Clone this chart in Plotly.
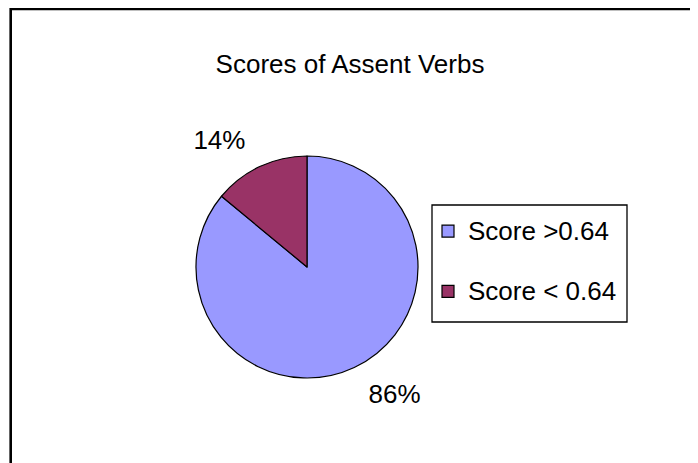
import plotly.graph_objects as go

W, H = 698, 463
OFF = 8  # page body margin in the browser

labels = ["Score >0.64", "Score < 0.64"]
values = [86, 14]
colors = ["#9999FF", "#993366"]
title = "Scores of Assent Verbs"

FONT = "Liberation Sans, Arial, sans-serif"
FS = 26


def px_x(x):
    # page pixel -> paper fraction
    return (x - OFF) / W


def px_y(y):
    return 1 - (y - OFF) / H


legend_labels = [
    f'<span style="font-size:{FS}px;baseline-shift:8px">{t}</span>' for t in labels
]

fig = go.Figure()
# visible pie
fig.add_trace(go.Pie(
    labels=legend_labels, values=values,
    marker=dict(colors=colors, line=dict(color="black", width=1.2)),
    sort=False, direction="clockwise", rotation=0,
    textinfo="none",
    domain=dict(x=[px_x(196), px_x(418)], y=[px_y(378), px_y(156)]),
    hovertemplate="%{customdata}: %{percent}<extra></extra>",
    customdata=labels,
))
# transparent, slightly larger copy that only carries the outside labels
fig.add_trace(go.Pie(
    labels=legend_labels, values=values,
    marker=dict(colors=["rgba(0,0,0,0)"] * len(values), line=dict(width=0)),
    sort=False, direction="clockwise", rotation=0,
    textposition="outside", texttemplate="%{percent:.0%}",
    textfont=dict(size=FS, color="black", family=FONT),
    domain=dict(x=[px_x(180), px_x(434)], y=[px_y(394), px_y(140)]),
    showlegend=False, hoverinfo="skip",
))

# chart border (cropped on right and bottom) and legend box
fig.add_shape(type="rect", xref="paper", yref="paper",
              x0=px_x(10.7), x1=1.05, y0=-0.05, y1=px_y(9),
              line=dict(color="black", width=2.6))
fig.add_shape(type="rect", xref="paper", yref="paper",
              x0=px_x(432), x1=px_x(627), y0=px_y(322), y1=px_y(205),
              line=dict(color="black", width=1.3))

fig.update_layout(
    width=W, height=H,
    paper_bgcolor="white", plot_bgcolor="white",
    margin=dict(l=0, r=0, t=0, b=0),
    font=dict(family=FONT, color="black", size=FS),
    title=dict(text=title, x=px_x(350), xanchor="center", xref="paper",
               y=px_y(64), yanchor="middle", yref="container",
               font=dict(size=FS, family=FONT, color="black")),
    legend=dict(x=px_x(428), xanchor="left", y=px_y(261.5), yanchor="middle",
                bgcolor="rgba(0,0,0,0)", borderwidth=0,
                font=dict(size=44, family=FONT, color="black"),
                itemwidth=30),
)

fig.write_html("out.html")
